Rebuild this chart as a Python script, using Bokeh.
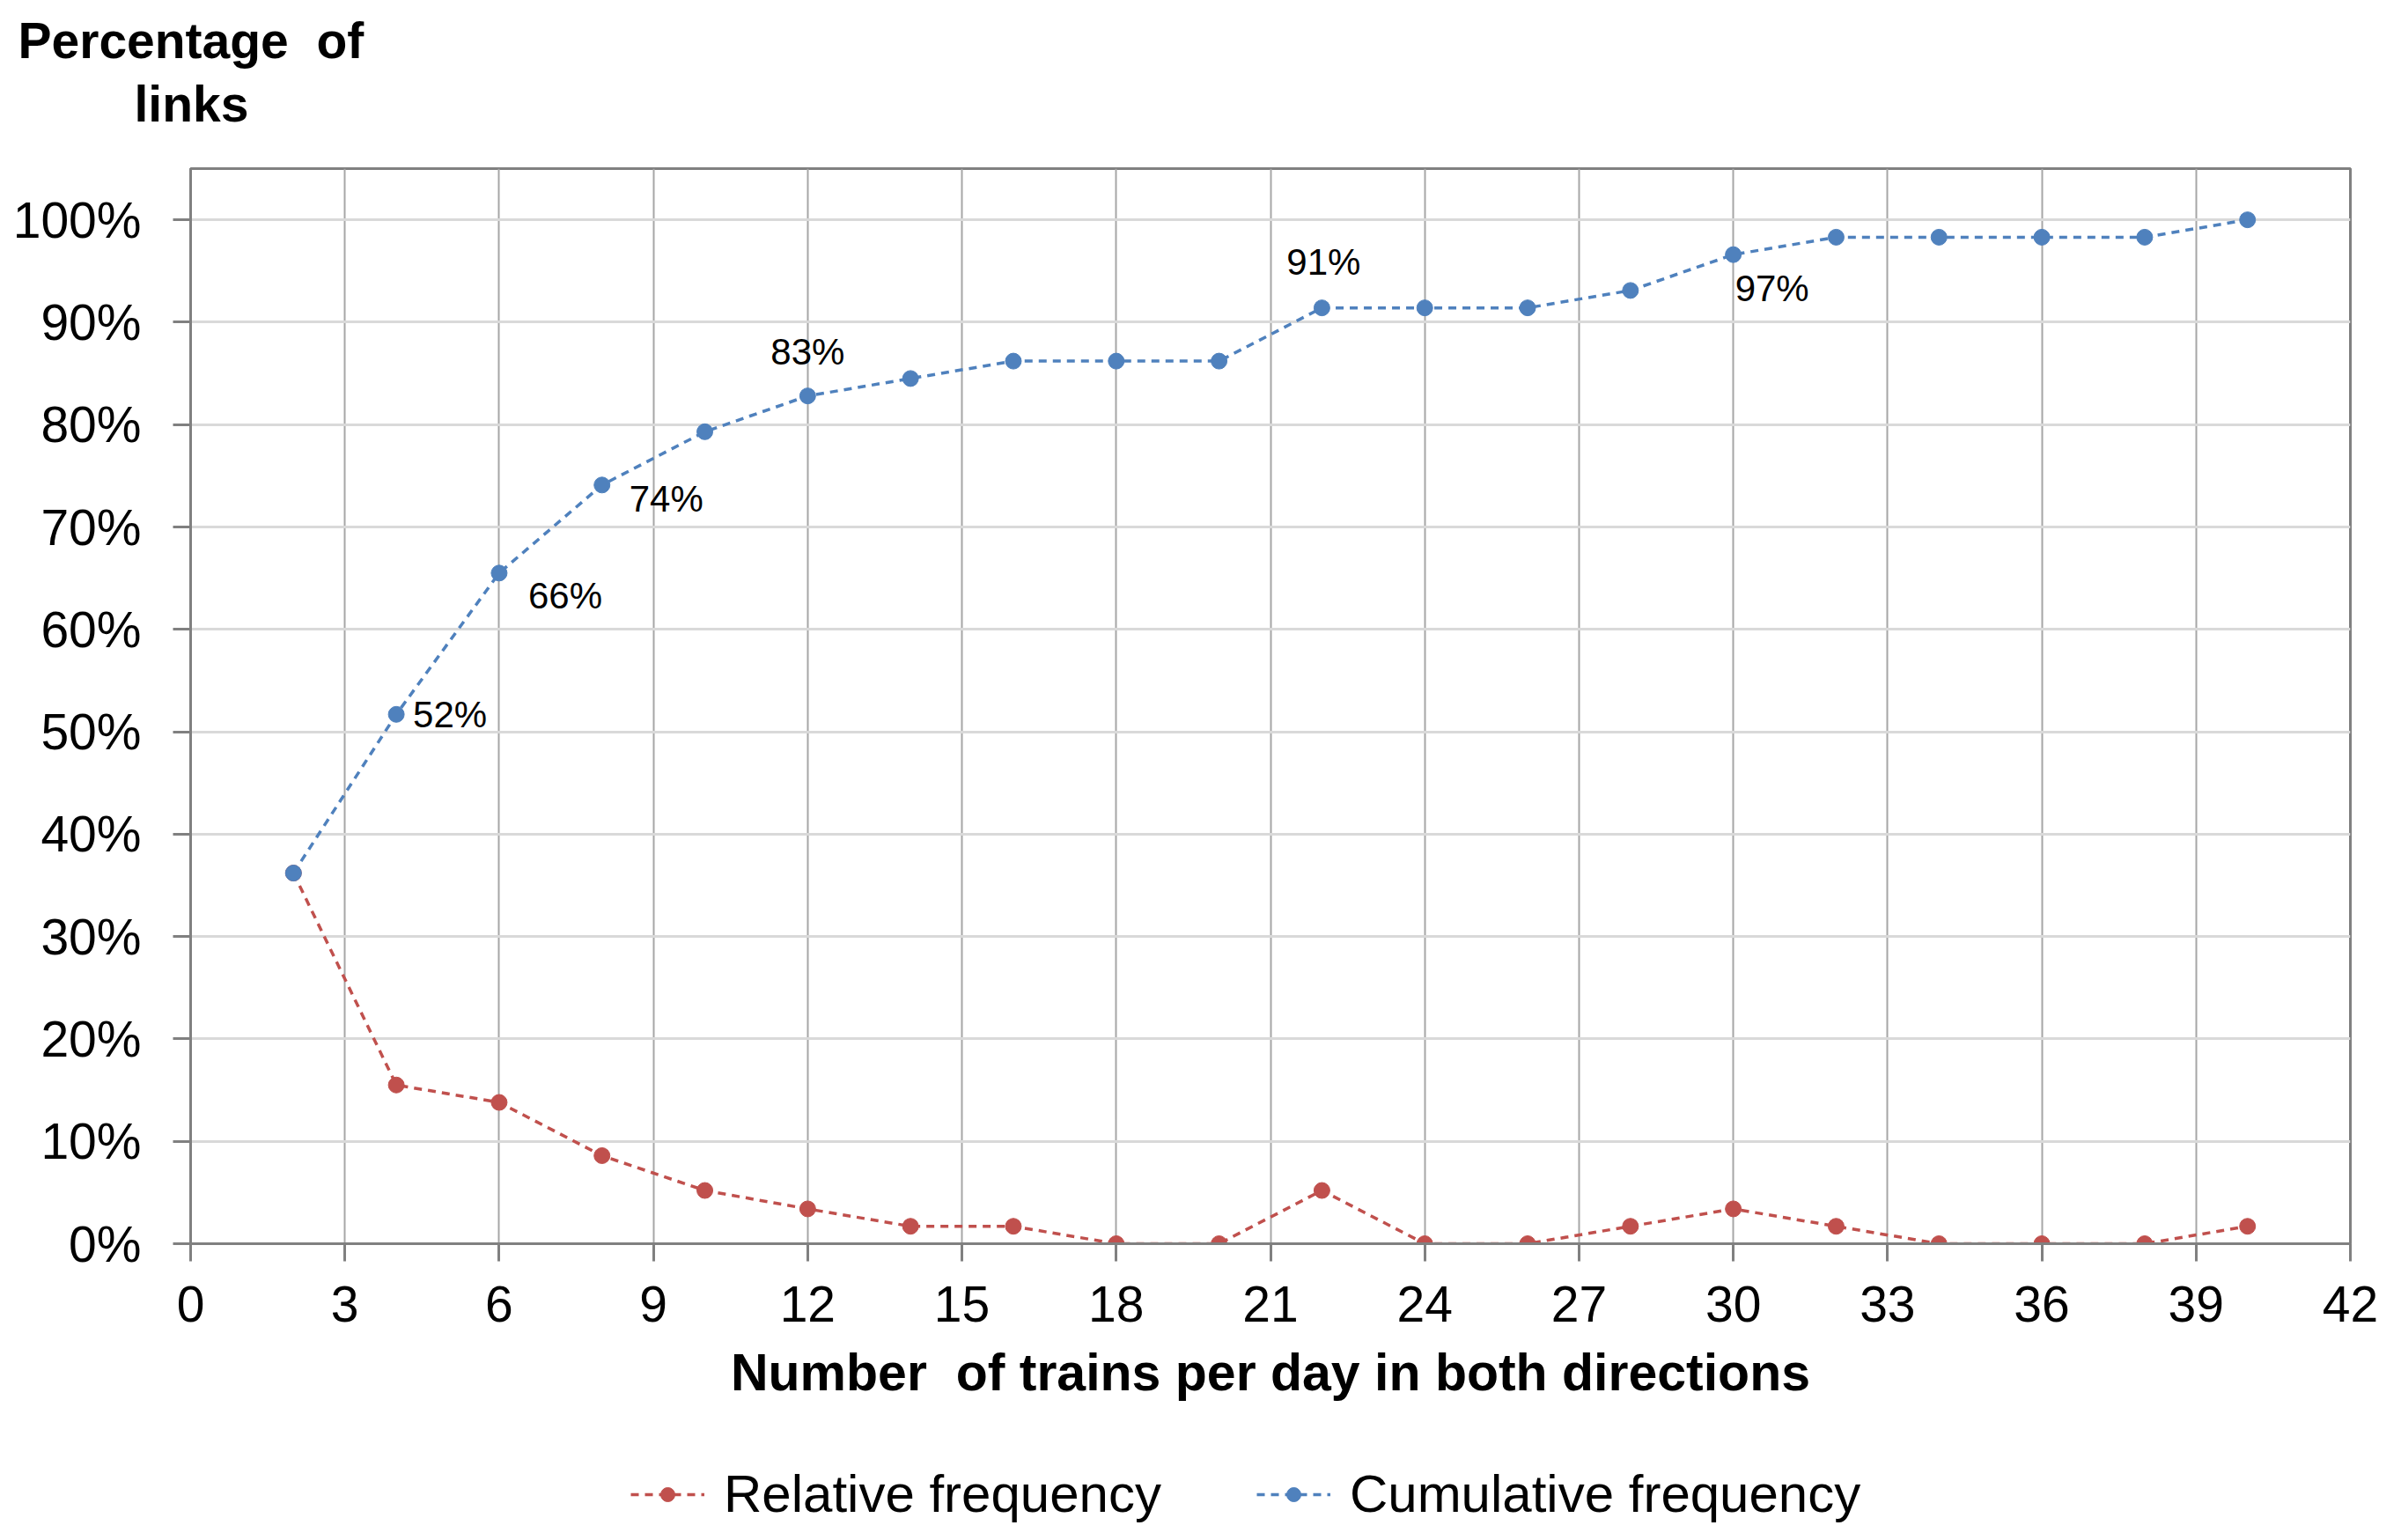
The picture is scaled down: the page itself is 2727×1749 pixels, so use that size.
from bokeh.plotting import figure
from bokeh.models import (ColumnDataSource, FixedTicker, PrintfTickFormatter, Legend,
                          LegendItem, Title, Range1d)
from bokeh.layouts import column
from bokeh.core.properties import value
from bokeh.embed import file_html
from bokeh.resources import INLINE

# ---------------- data ----------------
trains = [2, 4, 6, 8, 10, 12, 14, 16, 18, 20, 22, 24, 26, 28, 30, 32, 34, 36, 38, 40]
relative = [36.2, 15.5, 13.8, 8.6, 5.2, 3.4, 1.7, 1.7, 0.0, 0.0,
            5.2, 0.0, 0.0, 1.7, 3.4, 1.7, 0.0, 0.0, 0.0, 1.7]
cumulative = [36.2, 51.7, 65.5, 74.1, 79.3, 82.8, 84.5, 86.2, 86.2, 86.2,
              91.4, 91.4, 91.4, 93.1, 96.6, 98.3, 98.3, 98.3, 98.3, 100.0]
x_ticks = list(range(0, 43, 3))
y_ticks = list(range(0, 101, 10))
labelled_trains = [4, 6, 8, 12, 22, 30]
series_names = ["Relative frequency", "Cumulative frequency"]
x_title = "Number\u00a0 of trains per day in both directions"
y_title = ["Percentage\u00a0 of", "links"]

# ---------------- styles ----------------
FONT = "Liberation Sans"
BLUE = "#4F81BD"
RED = "#C0504D"
DASH = "9 7"
# label placement (screen px offsets from the point) for each labelled point
label_dx = [19, 33, 31, 0, 2, 2]
label_dy = [0, 26, 16, -50, -52, 38]
label_align = ["left", "left", "left", "center", "center", "left"]

W = 2719
p = figure(width=W, height=1646, output_backend="svg", toolbar_location=None,
           x_range=Range1d(0, 42), y_range=Range1d(0, 105),
           min_border_left=216, min_border_right=50, min_border_top=191,
           min_border_bottom=234)

src = ColumnDataSource(dict(x=trains, rel=relative, cum=cumulative))

p.line("x", "rel", source=src, color=RED, line_width=3.5, line_dash=DASH)
p.scatter("x", "rel", source=src, size=18, color=RED)
p.line("x", "cum", source=src, color=BLUE, line_width=3.5, line_dash=DASH)
p.scatter("x", "cum", source=src, size=18, color=BLUE)

# data labels
lab_y = [cumulative[trains.index(t)] for t in labelled_trains]
lab_src = ColumnDataSource(dict(
    x=labelled_trains, y=lab_y,
    text=[f"{int(v + 0.5)}%" for v in lab_y],
    dx=label_dx, dy=label_dy, align=label_align))
p.text("x", "y", text="text", source=lab_src, x_offset="dx", y_offset="dy",
       text_align="align", text_baseline="middle", text_font=value(FONT),
       text_font_size="42px", text_color="#000000")

# axes
p.xaxis.ticker = FixedTicker(ticks=x_ticks)
p.yaxis.ticker = FixedTicker(ticks=y_ticks)
p.yaxis.formatter = PrintfTickFormatter(format="%d%%")
for ax in (p.xaxis[0], p.yaxis[0]):
    ax.major_label_text_font = FONT
    ax.major_label_text_font_size = "57px"
    ax.major_label_text_color = "#000000"
    ax.minor_tick_line_color = None
    ax.major_tick_in = 0
    ax.major_tick_out = 20
    ax.major_tick_line_color = "#808080"
    ax.major_tick_line_width = 3
    ax.axis_line_color = "#808080"
    ax.axis_line_width = 3
p.yaxis.major_label_standoff = 36
p.xaxis.major_label_standoff = 28
p.xaxis.axis_label = x_title
p.xaxis.axis_label_text_font = FONT
p.xaxis.axis_label_text_font_style = "bold"
p.xaxis.axis_label_text_font_size = "59px"
p.xaxis.axis_label_text_color = "#000000"
p.xaxis.axis_label_standoff = 22

# grid / frame
p.xgrid.ticker = FixedTicker(ticks=x_ticks)
p.ygrid.ticker = FixedTicker(ticks=y_ticks)
p.xgrid.grid_line_color = "#A6A6A6"
p.xgrid.grid_line_width = 2
p.ygrid.grid_line_color = "#D9D9D9"
p.ygrid.grid_line_width = 3
p.outline_line_color = "#808080"
p.outline_line_width = 3
p.background_fill_color = "white"
p.border_fill_color = "white"

# y-axis title at the top-left: two stacked titles above the frame
p.add_layout(Title(text=y_title[1], align="left", offset=-64, text_font=FONT,
                   text_font_style="bold", text_font_size="57px",
                   text_color="#000000", standoff=84), "above")
p.add_layout(Title(text=y_title[0], align="left", offset=-196, text_font=FONT,
                   text_font_style="bold", text_font_size="57px",
                   text_color="#000000", standoff=-72), "above")

# legend strip below the chart (key glyphs only; their single point lies outside the view)
lg = figure(width=W, height=100, output_backend="svg", toolbar_location=None,
            x_range=Range1d(0, 1), y_range=Range1d(0, 1),
            x_axis_type=None, y_axis_type=None, min_border=0)
lg.outline_line_color = None
lg.grid.visible = False
lg.border_fill_color = "white"
key_src = ColumnDataSource(dict(x=[-5], y=[-5]))
kr_l = lg.line("x", "y", source=key_src, color=RED, line_width=3.5, line_dash=DASH)
kr_p = lg.scatter("x", "y", source=key_src, size=18, color=RED)
kc_l = lg.line("x", "y", source=key_src, color=BLUE, line_width=3.5, line_dash=DASH)
kc_p = lg.scatter("x", "y", source=key_src, size=18, color=BLUE)
legend = Legend(items=[LegendItem(label=series_names[0], renderers=[kr_l, kr_p]),
                       LegendItem(label=series_names[1], renderers=[kc_l, kc_p])],
                orientation="horizontal", location=(500, 15),
                label_text_font=FONT, label_text_font_size="60px",
                label_text_color="#000000", glyph_width=84, glyph_height=40,
                label_standoff=22, spacing=108, padding=0, margin=0,
                border_line_color=None, background_fill_alpha=0)
lg.add_layout(legend, "center")

layout = column(p, lg, spacing=0)
open("out.html", "w").write(file_html(layout, INLINE))
